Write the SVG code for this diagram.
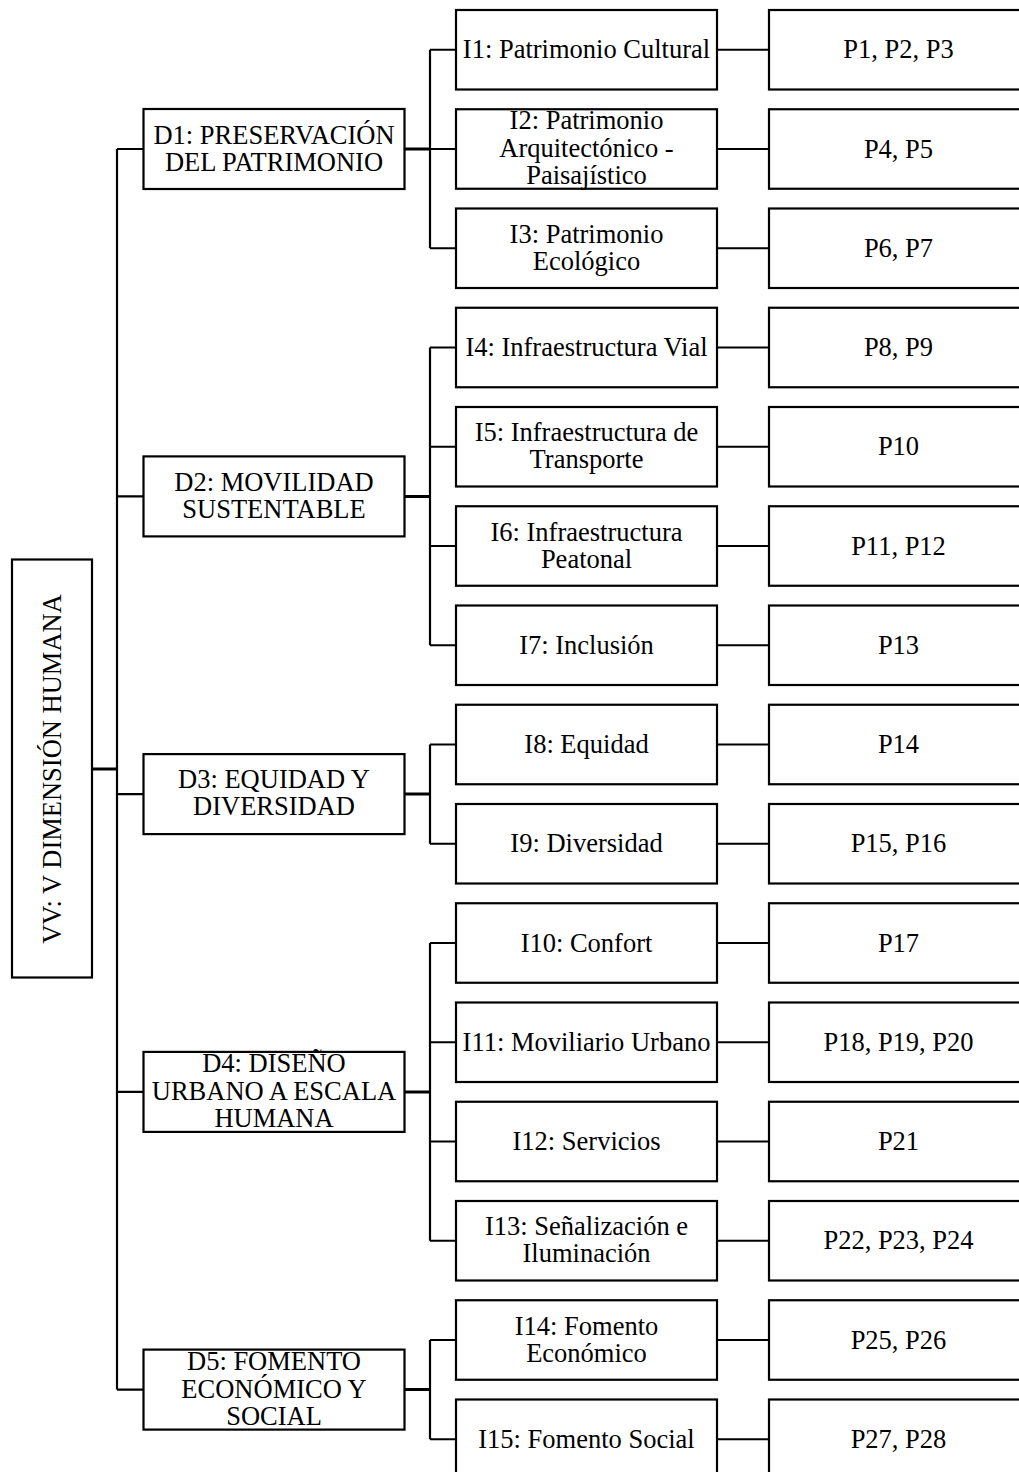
<svg xmlns="http://www.w3.org/2000/svg" width="1019" height="1472" viewBox="0 0 1019 1472">
<style>
.box{fill:#fff;stroke:#000;stroke-width:2.2}
.c{fill:none;stroke:#000;stroke-width:2.2}
.ct{fill:none;stroke:#000;stroke-width:3}
.t{font-family:"Liberation Serif","Times New Roman",serif;font-size:26.5px;text-anchor:middle;fill:#000}
</style>
<rect width="1019" height="1472" fill="#fff"/>
<g id="connectors">
<path class="ct" d="M92 769H117"/>
<path class="c" d="M117 149V1389.6"/>
<path class="c" d="M117 149H143.5M117 496.4H143.5M117 794.1H143.5M117 1091.9H143.5M117 1389.6H143.5"/>
<path class="ct" d="M404.5 149H430M404.5 496.4H430M404.5 794.1H430M404.5 1091.9H430M404.5 1389.6H430"/>
<path class="c" d="M430 49.75V248.25M430 347.5V645.25M430 744.5V843.75M430 943V1240.75M430 1340V1439.25"/>
<path class="c" d="M430 49.75H456M430 149H456M430 248.25H456M430 347.5H456M430 446.75H456M430 546H456M430 645.25H456M430 744.5H456M430 843.75H456M430 943H456M430 1042.25H456M430 1141.5H456M430 1240.75H456M430 1340H456M430 1439.25H456"/>
<path class="c" d="M717 49.75H769M717 149H769M717 248.25H769M717 347.5H769M717 446.75H769M717 546H769M717 645.25H769M717 744.5H769M717 843.75H769M717 943H769M717 1042.25H769M717 1141.5H769M717 1240.75H769M717 1340H769M717 1439.25H769"/>
</g>
<g id="VV"><rect class="box" x="12" y="559.5" width="80" height="418"/><text class="t" transform="translate(61 769) rotate(-90)" x="0" y="0">VV: V DIMENSIÓN HUMANA</text></g>
<g id="D1"><rect class="box" x="143.5" y="109" width="261" height="80"/><text class="t"><tspan x="274" y="143.5">D1: PRESERVACIÓN</tspan><tspan x="274" y="170.5">DEL PATRIMONIO</tspan></text></g>
<g id="D2"><rect class="box" x="143.5" y="456.4" width="261" height="80"/><text class="t"><tspan x="274" y="490.9">D2: MOVILIDAD</tspan><tspan x="274" y="517.9">SUSTENTABLE</tspan></text></g>
<g id="D3"><rect class="box" x="143.5" y="754.1" width="261" height="80"/><text class="t"><tspan x="274" y="788.1">D3: EQUIDAD Y</tspan><tspan x="274" y="815.1">DIVERSIDAD</tspan></text></g>
<g id="D4"><rect class="box" x="143.5" y="1051.9" width="261" height="80"/><text class="t"><tspan x="274" y="1072.4">D4: DISEÑO</tspan><tspan x="274" y="1099.9">URBANO A ESCALA</tspan><tspan x="274" y="1127.4">HUMANA</tspan></text></g>
<g id="D5"><rect class="box" x="143.5" y="1349.6" width="261" height="80"/><text class="t"><tspan x="274" y="1370.1">D5: FOMENTO</tspan><tspan x="274" y="1397.6">ECONÓMICO Y</tspan><tspan x="274" y="1425.1">SOCIAL</tspan></text></g>
<g id="I1"><rect class="box" x="456" y="10" width="261" height="79.5"/><text class="t" x="586.5" y="58.25">I1: Patrimonio Cultural</text></g>
<g id="I2"><rect class="box" x="456" y="109.25" width="261" height="79.5"/><text class="t"><tspan x="586.5" y="129">I2: Patrimonio</tspan><tspan x="586.5" y="156.5">Arquitectónico -</tspan><tspan x="586.5" y="184">Paisajístico</tspan></text></g>
<g id="I3"><rect class="box" x="456" y="208.5" width="261" height="79.5"/><text class="t"><tspan x="586.5" y="242.75">I3: Patrimonio</tspan><tspan x="586.5" y="269.75">Ecológico</tspan></text></g>
<g id="I4"><rect class="box" x="456" y="307.75" width="261" height="79.5"/><text class="t" x="586.5" y="356">I4: Infraestructura Vial</text></g>
<g id="I5"><rect class="box" x="456" y="407" width="261" height="79.5"/><text class="t"><tspan x="586.5" y="441.25">I5: Infraestructura de</tspan><tspan x="586.5" y="468.25">Transporte</tspan></text></g>
<g id="I6"><rect class="box" x="456" y="506.25" width="261" height="79.5"/><text class="t"><tspan x="586.5" y="540.5">I6: Infraestructura</tspan><tspan x="586.5" y="567.5">Peatonal</tspan></text></g>
<g id="I7"><rect class="box" x="456" y="605.5" width="261" height="79.5"/><text class="t" x="586.5" y="653.75">I7: Inclusión</text></g>
<g id="I8"><rect class="box" x="456" y="704.75" width="261" height="79.5"/><text class="t" x="586.5" y="753">I8: Equidad</text></g>
<g id="I9"><rect class="box" x="456" y="804" width="261" height="79.5"/><text class="t" x="586.5" y="852.25">I9: Diversidad</text></g>
<g id="I10"><rect class="box" x="456" y="903.25" width="261" height="79.5"/><text class="t" x="586.5" y="951.5">I10: Confort</text></g>
<g id="I11"><rect class="box" x="456" y="1002.5" width="261" height="79.5"/><text class="t" x="586.5" y="1050.75">I11: Moviliario Urbano</text></g>
<g id="I12"><rect class="box" x="456" y="1101.75" width="261" height="79.5"/><text class="t" x="586.5" y="1150">I12: Servicios</text></g>
<g id="I13"><rect class="box" x="456" y="1201" width="261" height="79.5"/><text class="t"><tspan x="586.5" y="1235.25">I13: Señalización e</tspan><tspan x="586.5" y="1262.25">Iluminación</tspan></text></g>
<g id="I14"><rect class="box" x="456" y="1300.25" width="261" height="79.5"/><text class="t"><tspan x="586.5" y="1334.5">I14: Fomento</tspan><tspan x="586.5" y="1361.5">Económico</tspan></text></g>
<g id="I15"><rect class="box" x="456" y="1399.5" width="261" height="79.5"/><text class="t" x="586.5" y="1447.75">I15: Fomento Social</text></g>
<g id="P1"><rect class="box" x="769" y="10" width="259" height="79.5"/><text class="t" x="898.5" y="58.25">P1, P2, P3</text></g>
<g id="P2"><rect class="box" x="769" y="109.25" width="259" height="79.5"/><text class="t" x="898.5" y="157.5">P4, P5</text></g>
<g id="P3"><rect class="box" x="769" y="208.5" width="259" height="79.5"/><text class="t" x="898.5" y="256.75">P6, P7</text></g>
<g id="P4"><rect class="box" x="769" y="307.75" width="259" height="79.5"/><text class="t" x="898.5" y="356">P8, P9</text></g>
<g id="P5"><rect class="box" x="769" y="407" width="259" height="79.5"/><text class="t" x="898.5" y="455.25">P10</text></g>
<g id="P6"><rect class="box" x="769" y="506.25" width="259" height="79.5"/><text class="t" x="898.5" y="554.5">P11, P12</text></g>
<g id="P7"><rect class="box" x="769" y="605.5" width="259" height="79.5"/><text class="t" x="898.5" y="653.75">P13</text></g>
<g id="P8"><rect class="box" x="769" y="704.75" width="259" height="79.5"/><text class="t" x="898.5" y="753">P14</text></g>
<g id="P9"><rect class="box" x="769" y="804" width="259" height="79.5"/><text class="t" x="898.5" y="852.25">P15, P16</text></g>
<g id="P10"><rect class="box" x="769" y="903.25" width="259" height="79.5"/><text class="t" x="898.5" y="951.5">P17</text></g>
<g id="P11"><rect class="box" x="769" y="1002.5" width="259" height="79.5"/><text class="t" x="898.5" y="1050.75">P18, P19, P20</text></g>
<g id="P12"><rect class="box" x="769" y="1101.75" width="259" height="79.5"/><text class="t" x="898.5" y="1150">P21</text></g>
<g id="P13"><rect class="box" x="769" y="1201" width="259" height="79.5"/><text class="t" x="898.5" y="1249.25">P22, P23, P24</text></g>
<g id="P14"><rect class="box" x="769" y="1300.25" width="259" height="79.5"/><text class="t" x="898.5" y="1348.5">P25, P26</text></g>
<g id="P15"><rect class="box" x="769" y="1399.5" width="259" height="79.5"/><text class="t" x="898.5" y="1447.75">P27, P28</text></g>
</svg>
